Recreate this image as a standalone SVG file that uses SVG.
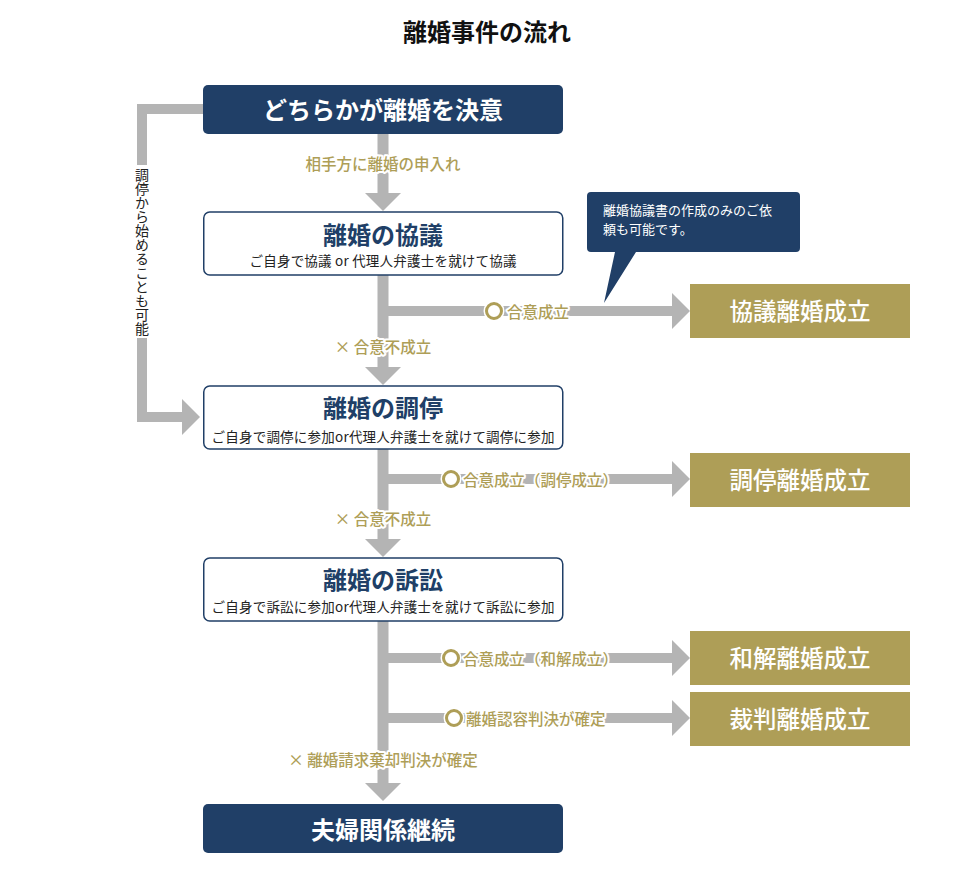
<svg xmlns="http://www.w3.org/2000/svg" width="974" height="872" viewBox="0 0 974 872">
<style>
text{font-family:"Noto Sans CJK JP","Noto Sans",sans-serif;dominant-baseline:central}
.navy{fill:#203f67}
.gold{fill:#ae9e57}
.line{stroke:#b4b4b4;fill:none}
.head{fill:#b4b4b4}
.box{fill:#fff;stroke:#203f67;stroke-width:1.5}
.t-title{font-size:24px;font-weight:bold;fill:#111;text-anchor:middle}
.t-dark{font-size:24px;font-weight:bold;fill:#fff;text-anchor:middle}
.t-h{font-size:24px;font-weight:bold;fill:#203f67;text-anchor:middle}
.t-sub{font-size:13.5px;fill:#222;text-anchor:middle}
.t-gold{font-size:23.5px;font-weight:500;fill:#fff;text-anchor:middle}
.lbl{font-size:15.5px;font-weight:500;fill:#ae9e57;stroke:#fff;stroke-width:4;paint-order:stroke;stroke-linejoin:round}
.mid{text-anchor:middle}
.ring{fill:#fff;stroke:#ae9e57;stroke-width:3}
.halo{fill:#fff}
.call{font-size:13px;fill:#fff}
.vert{font-size:14px;fill:#222;writing-mode:vertical-rl}
</style>

<text class="t-title" x="487" y="30">離婚事件の流れ</text>

<g id="connectors">
  <path class="line" stroke-width="11" d="M383,134V194M383,275V368M383,449V540M383,621V783"/>
  <path class="line" stroke-width="10" d="M383,311H673M383,479H673M383,658H673M383,718H673"/>
  <path class="line" stroke-width="10" d="M203,109H142V165M142,338V417H183"/>
  <polygon class="head" points="365,193 401,193 383,211"/>
  <polygon class="head" points="365,367 401,367 383,385"/>
  <polygon class="head" points="365,539 401,539 383,557"/>
  <polygon class="head" points="365,783 401,783 383,801"/>
  <polygon class="head" points="672,293 672,329 690,311"/>
  <polygon class="head" points="672,461 672,497 690,479"/>
  <polygon class="head" points="672,640 672,676 690,658"/>
  <polygon class="head" points="672,700 672,736 690,718"/>
  <polygon class="head" points="182,399 182,435 200,417"/>
  <text class="vert" x="142" y="168">調停から始めることも可能</text>
  <text class="lbl mid" x="383" y="163">相手方に離婚の申入れ</text>
  <text class="lbl mid" x="383" y="346">× 合意不成立</text>
  <text class="lbl mid" x="383" y="518">× 合意不成立</text>
  <text class="lbl mid" x="383" y="759">× 離婚請求棄却判決が確定</text>
  <circle class="halo" cx="494" cy="311" r="10.5"/>
  <circle class="ring" cx="494" cy="311" r="7.5"/>
  <text class="lbl" x="507" y="311">合意成立</text>
  <circle class="halo" cx="451" cy="479" r="10.5"/>
  <circle class="ring" cx="451" cy="479" r="7.5"/>
  <text class="lbl" x="463" y="479">合意成立（調停成立）</text>
  <circle class="halo" cx="451" cy="658" r="10.5"/>
  <circle class="ring" cx="451" cy="658" r="7.5"/>
  <text class="lbl" x="463" y="658">合意成立（和解成立）</text>
  <circle class="halo" cx="454" cy="718" r="10.5"/>
  <circle class="ring" cx="454" cy="718" r="7.5"/>
  <text class="lbl" x="466" y="718">離婚認容判決が確定</text>
</g>

<g id="start">
  <rect class="navy" x="203" y="85" width="360" height="49" rx="5"/>
  <text class="t-dark" x="383" y="108">どちらかが離婚を決意</text>
</g>

<g id="kyogi">
  <rect class="box" x="203.75" y="212" width="359" height="63" rx="6"/>
  <text class="t-h" x="383" y="233">離婚の協議</text>
  <text class="t-sub" x="383" y="260" textLength="267" lengthAdjust="spacing">ご自身で協議 or 代理人弁護士を就けて協議</text>
</g>

<g id="chotei">
  <rect class="box" x="203.75" y="386" width="359" height="63" rx="6"/>
  <text class="t-h" x="383" y="406">離婚の調停</text>
  <text class="t-sub" x="383" y="436" textLength="343" lengthAdjust="spacing">ご自身で調停に参加or代理人弁護士を就けて調停に参加</text>
</g>

<g id="sosho">
  <rect class="box" x="203.75" y="558" width="359" height="63" rx="6"/>
  <text class="t-h" x="383" y="578">離婚の訴訟</text>
  <text class="t-sub" x="383" y="606" textLength="343" lengthAdjust="spacing">ご自身で訴訟に参加or代理人弁護士を就けて訴訟に参加</text>
</g>

<g id="keizoku">
  <rect class="navy" x="203" y="804" width="360" height="49" rx="5"/>
  <text class="t-dark" x="383" y="828">夫婦関係継続</text>
</g>

<g id="callout">
  <path class="navy" d="M591,192H796Q800,192 800,196V248Q800,252 796,252H636L604,303L615,252H591Q587,252 587,248V196Q587,192 591,192Z"/>
  <text class="call" x="603" y="209">離婚協議書の作成のみのご依</text>
  <text class="call" x="603" y="228">頼も可能です。</text>
</g>

<g id="kyogi-rikon">
  <rect class="gold" x="690" y="284" width="220" height="54"/>
  <text class="t-gold" x="800" y="310">協議離婚成立</text>
</g>
<g id="chotei-rikon">
  <rect class="gold" x="690" y="453" width="220" height="54"/>
  <text class="t-gold" x="800" y="479">調停離婚成立</text>
</g>
<g id="wakai-rikon">
  <rect class="gold" x="690" y="631" width="220" height="54"/>
  <text class="t-gold" x="800" y="657">和解離婚成立</text>
</g>
<g id="saiban-rikon">
  <rect class="gold" x="690" y="692" width="220" height="54"/>
  <text class="t-gold" x="800" y="718">裁判離婚成立</text>
</g>
</svg>
